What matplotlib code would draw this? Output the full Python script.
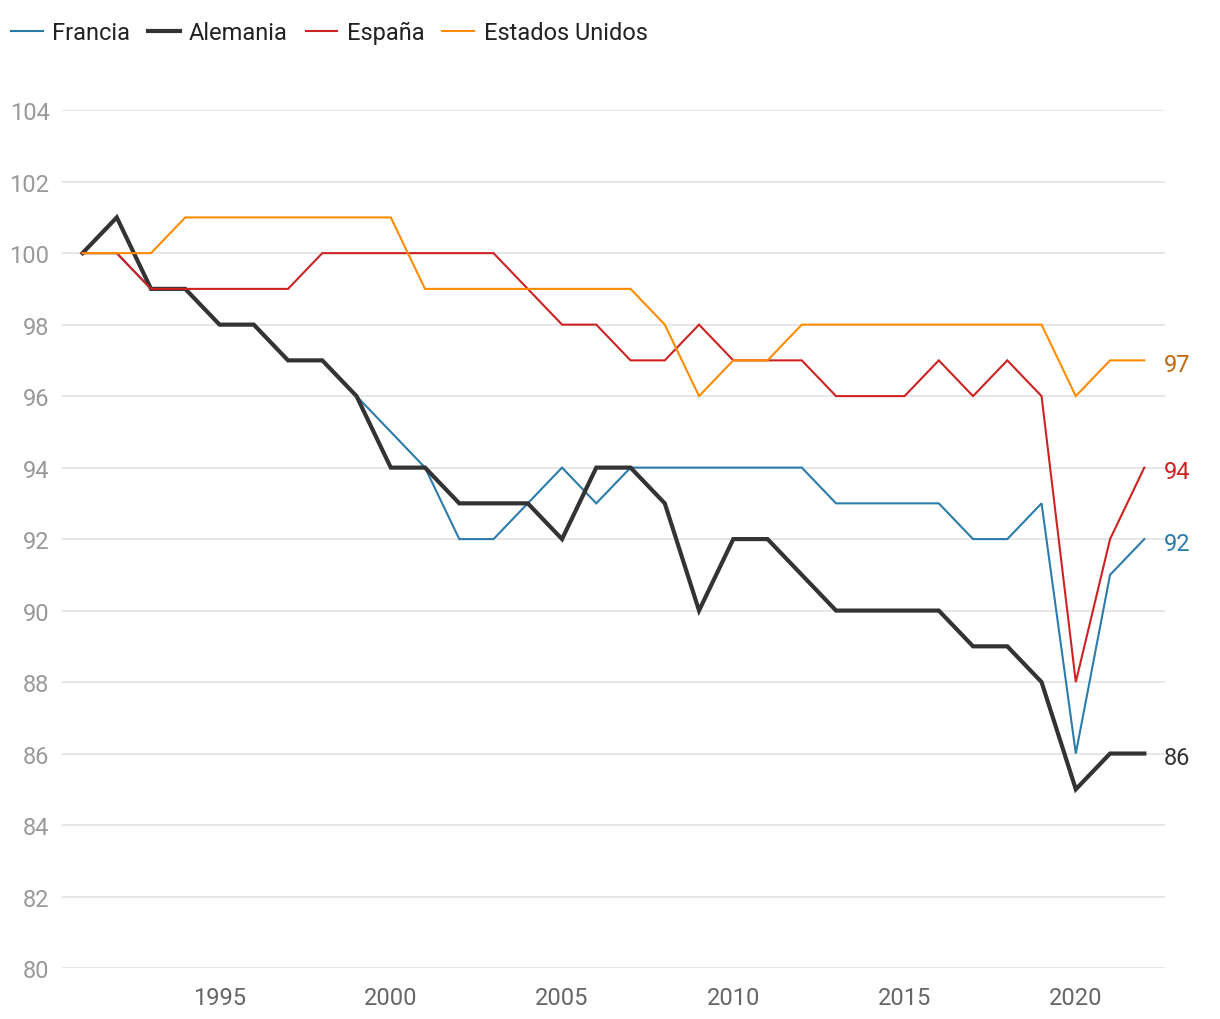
import matplotlib.pyplot as plt

plt.rcParams['font.family'] = ['Roboto', 'DejaVu Sans']

# Datos (índice, 1991 = 100)
anios = list(range(1991, 2023))
francia = [100, 100, 99, 99, 98, 98, 97, 97, 96, 95, 94, 92, 92, 93, 94, 93,
           94, 94, 94, 94, 94, 94, 93, 93, 93, 93, 92, 92, 93, 86, 91, 92]
alemania = [100, 101, 99, 99, 98, 98, 97, 97, 96, 94, 94, 93, 93, 93, 92, 94,
            94, 93, 90, 92, 92, 91, 90, 90, 90, 90, 89, 89, 88, 85, 86, 86]
espana = [100, 100, 99, 99, 99, 99, 99, 100, 100, 100, 100, 100, 100, 99, 98, 98,
          97, 97, 98, 97, 97, 97, 96, 96, 96, 97, 96, 97, 96, 88, 92, 94]
eeuu = [100, 100, 100, 101, 101, 101, 101, 101, 101, 101, 99, 99, 99, 99, 99, 99,
        99, 98, 96, 97, 97, 98, 98, 98, 98, 98, 98, 98, 98, 96, 97, 97]

series = [
    ('Francia', francia, '#2b7bab', 1.5, '#2b7bab'),
    ('Alemania', alemania, '#333333', 3.0, '#333333'),
    ('España', espana, '#cc2222', 1.5, '#cc2222'),
    ('Estados Unidos', eeuu, '#ff8c00', 1.5, '#c0670a'),
]

fig = plt.figure(figsize=(12.2, 10.2), dpi=100)
ax = fig.add_axes([0.0508, 0.05, 0.904, 0.841])

for nombre, valores, color, lw, color_etq in series:
    ax.plot(anios, valores, color=color, lw=lw, label=nombre,
            solid_joinstyle='miter', clip_on=False, zorder=3)
    ax.annotate(str(valores[-1]), xy=(anios[-1], valores[-1]),
                xytext=(14, -3), textcoords='offset points',
                color=color_etq, fontsize=17, va='center', ha='left',
                annotation_clip=False)

ax.set_xlim(1990.4, 2022.6)
ax.set_ylim(80, 104)
ax.set_yticks(range(80, 105, 2))
ax.set_xticks(range(1995, 2021, 5))
ax.grid(axis='y', color='#e3e3e3', lw=1.2, zorder=0)
ax.set_axisbelow(True)
for s in ax.spines.values():
    s.set_visible(False)
ax.tick_params(axis='y', length=0, labelsize=17, labelcolor='#999999', pad=9)
ax.tick_params(axis='x', length=0, labelsize=17, labelcolor='#666666', pad=13)

fig.legend(loc='upper left', bbox_to_anchor=(0.001, 0.988), ncol=4, frameon=False,
           fontsize=17, handlelength=1.35, handletextpad=0.4, columnspacing=0.75,
           borderaxespad=0.0, labelcolor='#222222')

fig.savefig('out.png', dpi=100)
